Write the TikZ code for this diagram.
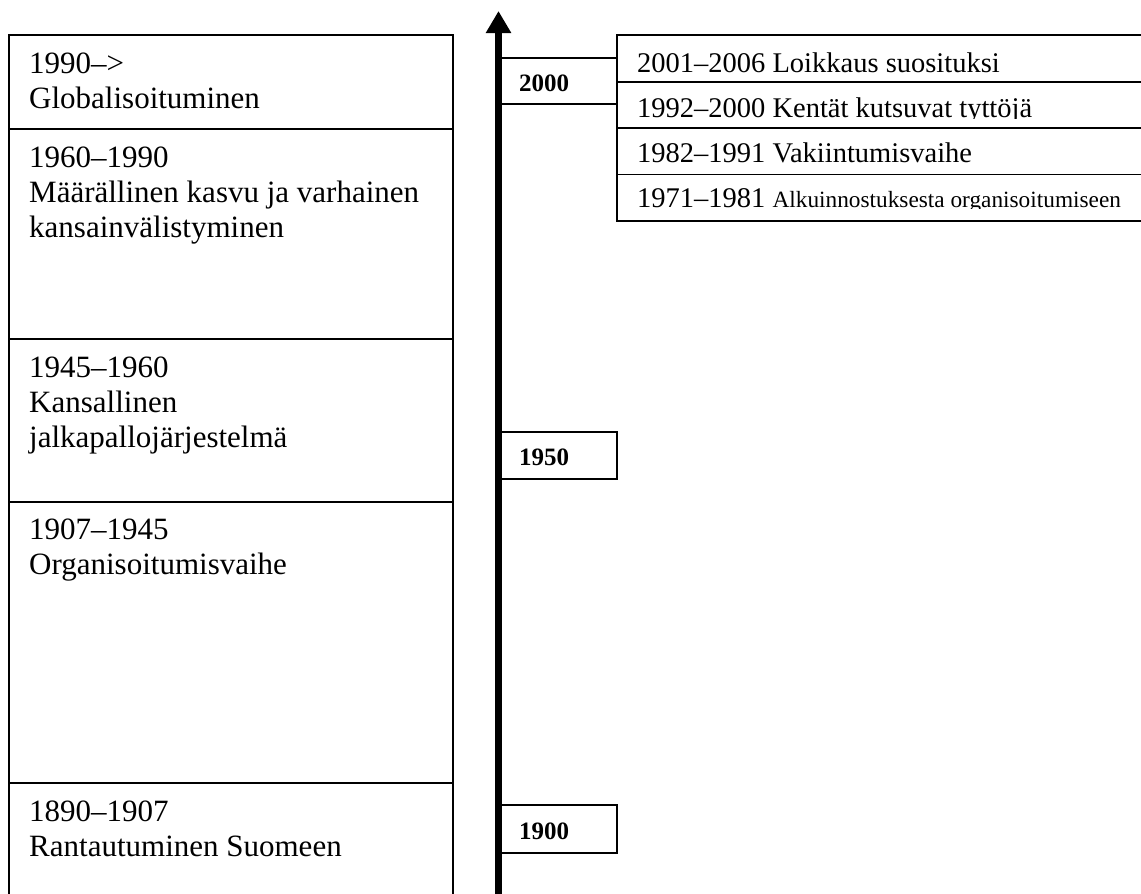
\documentclass[tikz,border=0pt]{standalone}
\usepackage{fontspec}
\setmainfont{Liberation Serif}
\usetikzlibrary{arrows.meta}
\tikzset{
  frame/.style={draw, line width=1.5pt, inner sep=0pt, anchor=north west, minimum width=#1},
  lefttext/.style={anchor=base west, inner sep=0pt, align=left, font=\fontsize{31}{35}\selectfont},
  righttext/.style={anchor=base west, inner sep=0pt, font=\fontsize{28.5}{33}\selectfont},
  yeartext/.style={anchor=base west, inner sep=0pt, font=\fontsize{25}{28}\selectfont\bfseries},
  axisline/.style={line width=6.5pt, -{Triangle[width=24pt,length=22pt]}}
}
\begin{document}
\begin{tikzpicture}[x=1pt,y=-1pt]
\useasboundingbox (0,0) rectangle (1141,894);
\clip (0,0) rectangle (1141,894);
% left column sections
\node[frame=444pt, minimum height=94pt]  (s1) at (8,34) {};
\node[frame=444pt, minimum height=210pt] (s2) at (8,128) {};
\node[frame=444pt, minimum height=163pt] (s3) at (8,338) {};
\node[frame=444pt, minimum height=281pt] (s4) at (8,501) {};
\node[frame=444pt, minimum height=140pt] (s5) at (8,782) {};
% (base anchor of a multi-line node = baseline of its last line)
\node[lefttext] (t1) at (29,108) {1990–>\\Globalisoituminen};
\node[lefttext] (t2) at (29,237) {1960–1990\\Määrällinen kasvu ja varhainen\\kansainvälistyminen};
\node[lefttext] (t3) at (29,447) {1945–1960\\Kansallinen\\jalkapallojärjestelmä};
\node[lefttext] (t4) at (29,574) {1907–1945\\Organisoitumisvaihe};
\node[lefttext] (t5) at (29,856) {1890–1907\\Rantautuminen Suomeen};
% right column rows
\node[frame=560pt, minimum height=46.5pt] (r1) at (616,34) {};
\node[frame=560pt, minimum height=46.5pt] (r2) at (616,80.5) {};
\node[frame=560pt, minimum height=46.5pt] (r3) at (616,127) {};
\node[frame=560pt, minimum height=46.5pt] (r4) at (616,173.5) {};
\draw[line width=2.4pt] (r1.south west) -- (r1.south east);
\node[righttext] (u1) at (637,72) {2001–2006 Loikkaus suosituksi};
\begin{scope}
  \clip (616,82) rectangle (1141,118.5);
  \node[righttext] (u2) at (637,117) {1992–2000 Kentät kutsuvat tyttöjä};
\end{scope}
\node[righttext] (u3) at (637,162) {1982–1991 Vakiintumisvaihe};
\begin{scope}
  \clip (616,175) rectangle (1141,208.5);
  \node[righttext] (u4) at (637,207) {1971–1981 {\fontsize{23.3}{27}\selectfont Alkuinnostuksesta organisoitumiseen}};
\end{scope}
% year labels
\node[frame=116pt, minimum height=46pt] (y2000) at (500,57) {};
\node[frame=116pt, minimum height=47pt] (y1950) at (500,431) {};
\node[frame=116pt, minimum height=48pt] (y1900) at (500,804) {};
\node[yeartext] (v2000) at (519,91) {2000};
\node[yeartext] (v1950) at (519,465) {1950};
\node[yeartext] (v1900) at (519,839) {1900};
% time axis
\coordinate (axb) at (498.5,900);
\coordinate (axt) at (498.5,11);
\draw[axisline] (axb) -- (axt);
\end{tikzpicture}
\end{document}
